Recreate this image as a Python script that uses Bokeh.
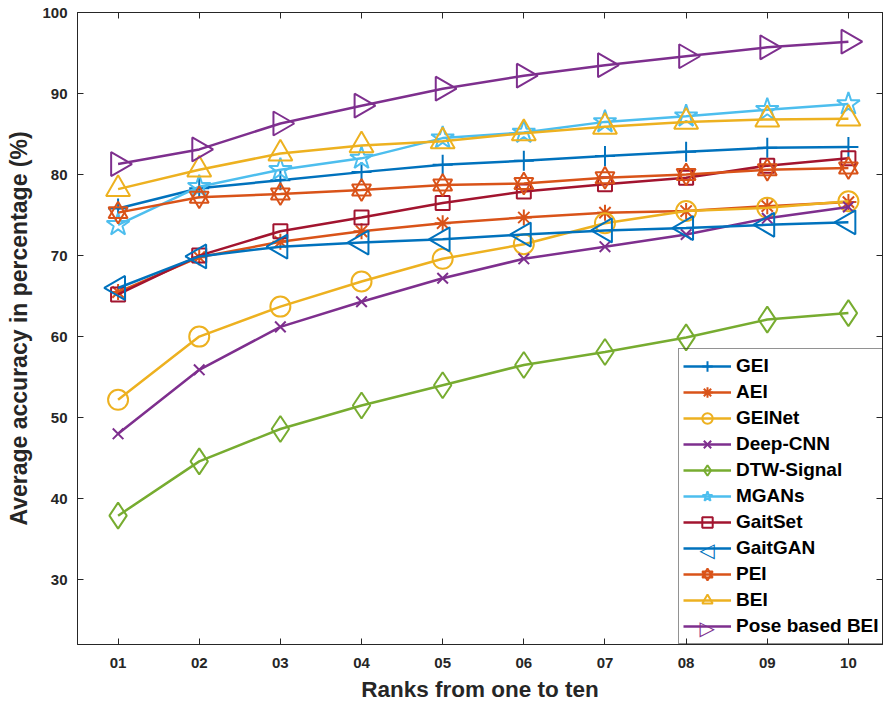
import math
from bokeh.plotting import figure
from bokeh.models import Range1d, FixedTicker, LinearAxis, Legend, LegendItem, Label
from bokeh.embed import file_html
from bokeh.resources import INLINE

ranks = ["01", "02", "03", "04", "05", "06", "07", "08", "09", "10"]
x_pos = [1, 2, 3, 4, 5, 6, 7, 8, 9, 10]
y_ticks = [30, 40, 50, 60, 70, 80, 90, 100]

gei = [75.8, 78.3, 79.3, 80.3, 81.2, 81.7, 82.3, 82.8, 83.3, 83.4]
aei = [65.5, 69.8, 71.7, 73.0, 74.0, 74.7, 75.3, 75.5, 76.1, 76.6]
geinet = [52.2, 60.0, 63.7, 66.8, 69.6, 71.4, 74.0, 75.5, 75.9, 76.7]
deep_cnn = [48.0, 55.9, 61.2, 64.3, 67.2, 69.6, 71.1, 72.6, 74.6, 76.0]
dtw_signal = [37.9, 44.6, 48.6, 51.5, 54.0, 56.5, 58.1, 59.9, 62.1, 62.9]
mgans = [73.8, 78.5, 80.6, 82.0, 84.5, 85.2, 86.5, 87.2, 88.0, 88.7]
gaitset = [65.2, 70.0, 73.0, 74.7, 76.5, 77.9, 78.8, 79.6, 81.1, 82.0]
gaitgan = [66.0, 69.9, 71.1, 71.6, 72.0, 72.6, 73.1, 73.4, 73.8, 74.1]
pei = [75.3, 77.2, 77.6, 78.1, 78.7, 78.9, 79.6, 80.0, 80.6, 80.8]
bei = [78.2, 80.6, 82.6, 83.6, 84.1, 85.1, 85.9, 86.5, 86.8, 86.9]
pose_bei = [81.3, 83.1, 86.3, 88.5, 90.6, 92.2, 93.5, 94.6, 95.7, 96.4]

# (label, values, color, markers [(marker, size, angle)], legend symbol override)
series = [
    ("GEI", gei, "#0072BD", [("cross", 20, 0.0)], None),
    ("AEI", aei, "#D95319", [("asterisk", 16, 0.0)], None),
    ("GEINet", geinet, "#EDB120", [("circle", 20, 0.0)], None),
    ("Deep-CNN", deep_cnn, "#7E2F8E", [("x", 15, 0.0)], None),
    ("DTW-Signal", dtw_signal, "#77AC30", [("diamond", 26, 0.0)], None),
    ("MGANs", mgans, "#4DBEEE", [("star", 24, 0.0)], None),
    ("GaitSet", gaitset, "#A2142F", [("square", 14, 0.0)], None),
    ("GaitGAN", gaitgan, "#0072BD", [("triangle", 24, math.pi / 2)], "\u25C1"),
    ("PEI", pei, "#D95319", [("triangle", 19, 0.0), ("inverted_triangle", 19, 0.0)], None),
    ("BEI", bei, "#EDB120", [("triangle", 24, 0.0)], None),
    ("Pose based BEI", pose_bei, "#7E2F8E", [("triangle", 24, -math.pi / 2)], "\u25B7"),
]

FONT = "Liberation Sans"
AX = "#262626"

W, H = 883, 704
B_LEFT, B_RIGHT, B_TOP, B_BOTTOM = 77, 1, 12, 59
X0, X1 = 0.5, 10.42
Y0, Y1 = 22, 100
FRAME_W = W - B_LEFT - B_RIGHT - 1
FRAME_H = H - B_TOP - B_BOTTOM

p = figure(width=W, height=H, output_backend="svg", toolbar_location=None,
           x_range=Range1d(X0, X1), y_range=Range1d(Y0, Y1),
           min_border_left=B_LEFT, min_border_right=B_RIGHT,
           min_border_top=B_TOP, min_border_bottom=B_BOTTOM)
p.background_fill_color = "white"
p.border_fill_color = "white"
p.outline_line_color = AX
p.outline_line_width = 1
p.xgrid.visible = False
p.ygrid.visible = False

items = []
overrides = []
for label, vals, color, markers, sym in series:
    lr = p.line(x_pos, vals, line_color=color, line_width=2.5)
    rs = [lr]
    for mk, sz, ang in markers:
        sr = p.scatter(x_pos, vals, marker=mk, size=sz, angle=ang, line_color=color,
                       fill_color=None, line_width=2)
        if sym is None:
            rs.append(sr)
    items.append(LegendItem(label=label, renderers=rs))
    overrides.append((sym, color))

def style_axis(ax, show_labels=True):
    ax.axis_line_color = AX
    ax.axis_line_width = 1
    ax.major_tick_line_color = AX
    ax.major_tick_in = 6
    ax.major_tick_out = 0
    ax.minor_tick_line_color = None
    ax.major_label_text_font = FONT
    ax.major_label_text_font_style = "bold"
    ax.major_label_text_color = AX
    ax.major_label_text_font_size = "15px"
    ax.major_label_standoff = 10 if show_labels else 0

xa = p.xaxis[0]
xa.ticker = FixedTicker(ticks=x_pos)
xa.major_label_overrides = {x: r for x, r in zip(x_pos, ranks)}
style_axis(xa)
xa.major_label_standoff = 13
xa.axis_label = "Ranks from one to ten"
xa.axis_label_text_font = FONT
xa.axis_label_text_font_style = "bold"
xa.axis_label_text_font_size = "22.5px"
xa.axis_label_text_color = AX
xa.axis_label_standoff = 6

ya = p.yaxis[0]
ya.ticker = FixedTicker(ticks=y_ticks)
style_axis(ya)
ya.axis_label = "Average accuracy in percentage (%)"
ya.axis_label_text_font = FONT
ya.axis_label_text_font_style = "bold"
ya.axis_label_text_font_size = "23px"
ya.axis_label_text_color = AX
ya.axis_label_standoff = 7

top = LinearAxis(ticker=FixedTicker(ticks=x_pos))
style_axis(top, False)
top.major_label_overrides = {x: "" for x in x_pos}
p.add_layout(top, "above")
right = LinearAxis(ticker=FixedTicker(ticks=y_ticks))
style_axis(right, False)
right.major_label_overrides = {y: "" for y in y_ticks}
p.add_layout(right, "right")

# legend layout
ROW = 26
PAD = 4
GLYPH_W = 48
LEG_LEFT = 601  # px from frame left
n_items = len(items)
leg_h = n_items * ROW + 2 * PAD

# rotated triangle symbols for the legend (Bokeh legends ignore marker angles);
# legend pixel offsets converted to the plot's own data scale
for i, (sym, color) in enumerate(overrides):
    if sym is None:
        continue
    cy_px = leg_h - PAD - ROW / 2 - i * ROW   # px above frame bottom
    cx_px = LEG_LEFT + PAD + GLYPH_W / 2     # px right of frame left
    lx = X0 + cx_px * (X1 - X0) / FRAME_W
    ly = Y0 + cy_px * (Y1 - Y0) / FRAME_H
    p.add_layout(Label(x=lx, y=ly, text=sym,
                       text_align="center", text_baseline="middle",
                       text_font="DejaVu Sans", text_font_size="20px", text_color=color))

lg = Legend(items=items, location=(LEG_LEFT, 0), margin=0, padding=PAD, spacing=0,
            glyph_width=GLYPH_W, glyph_height=ROW, label_height=ROW, label_standoff=5,
            label_text_font=FONT, label_text_font_style="bold", label_text_font_size="19px",
            label_text_color="black", border_line_color=AX, border_line_width=1,
            background_fill_color="white", background_fill_alpha=0.0)
p.add_layout(lg, "center")

open("out.html", "w").write(file_html(p, INLINE))
